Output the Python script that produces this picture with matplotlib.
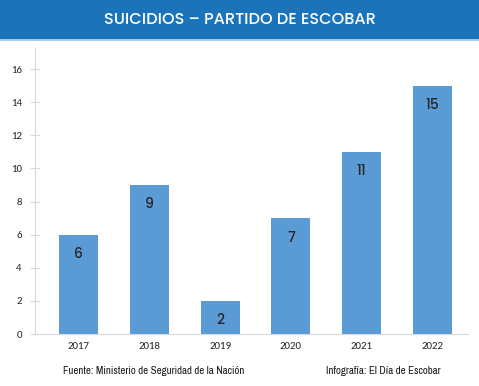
import matplotlib
matplotlib.use("Agg")
import matplotlib.pyplot as plt
from matplotlib.patches import Rectangle

years = ["2017", "2018", "2019", "2020", "2021", "2022"]
values = [6, 9, 2, 7, 11, 15]
yticks = [0, 2, 4, 6, 8, 10, 12, 14, 16]
title = "SUICIDIOS – PARTIDO DE ESCOBAR"
source_left = "Fuente: Ministerio de Seguridad de la Nación"
source_right = "Infografía: El Día de Escobar"

W, H = 479, 386
fig = plt.figure(figsize=(W / 100, H / 100), dpi=100)
fig.patch.set_facecolor("white")

fig.patches.append(Rectangle((0, 1 - 39 / H), 1, 39 / H, transform=fig.transFigure,
                             facecolor="#1b74ba", edgecolor="none", zorder=0))
fig.patches.append(Rectangle((0, 1 - 41 / H), 1, 2 / H, transform=fig.transFigure,
                             facecolor="#a8cbe9", edgecolor="none", zorder=0))
fig.text(0.5, 1 - 20 / H, title, color="white", ha="center", va="center",
         fontsize=11.6, fontweight="medium", family=["Poppins", "Lato", "DejaVu Sans"])

ax = fig.add_axes([35 / W, 1 - 334 / H, (468 - 35) / W, (334 - 48) / H])
x = list(range(len(years)))
ax.bar(x, values, width=0.55, color="#5b9bd5", zorder=2)
for xi, v in zip(x, values):
    ax.annotate(str(v), (xi, v), xytext=(0, -20), textcoords="offset pixels",
                ha="center", va="center", fontsize=10, color="#262626",
                fontweight="medium", family=["Poppins", "Lato", "DejaVu Sans"])

ax.set_xlim(-0.614, 5.50)
ax.set_ylim(0, 17.27)
ax.set_xticks(x)
ax.set_xticklabels(years)
ax.set_yticks(yticks)
ax.tick_params(axis="y", direction="inout", length=7, width=0.8, color="#d9d9d9",
               labelsize=7.8, labelcolor="#262626", pad=6)
ax.tick_params(axis="x", length=0, labelsize=7.8, labelcolor="#262626", pad=6)
for lab in ax.get_xticklabels() + ax.get_yticklabels():
    lab.set_family(["Carlito", "Liberation Sans", "DejaVu Sans"])
for s in ["top", "right"]:
    ax.spines[s].set_visible(False)
ax.spines["left"].set_color("#d9d9d9")
ax.spines["bottom"].set_color("#d9d9d9")

cond_family = ["Archivo Narrow", "Roboto Condensed", "DejaVu Sans"]
fig.text(63 / W, 1 - 371 / H, source_left, ha="left", va="center", fontsize=7.8,
         color="#1a1a1a", family=cond_family)
fig.text(441 / W, 1 - 371 / H, source_right, ha="right", va="center", fontsize=7.8,
         color="#1a1a1a", family=cond_family)

fig.savefig("out.png", dpi=100)
